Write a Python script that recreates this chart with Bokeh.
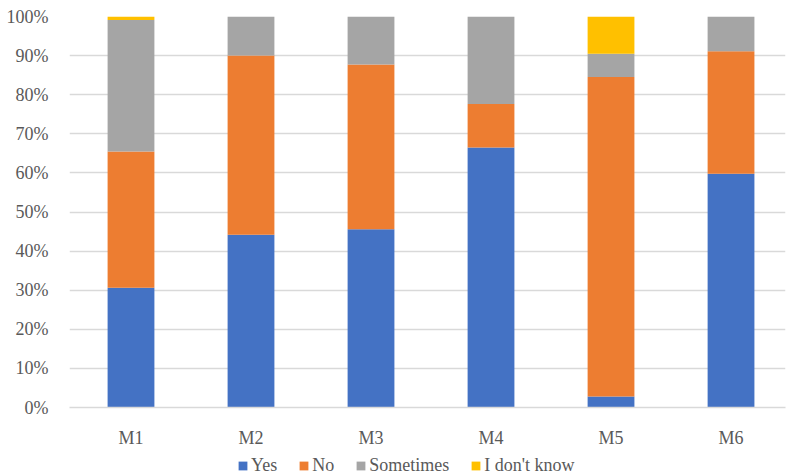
from bokeh.plotting import figure
from bokeh.layouts import column
from bokeh.models import Range1d, FixedTicker, NumeralTickFormatter, Legend, LegendItem, ColumnDataSource
from bokeh.embed import file_html
from bokeh.resources import INLINE

categories = ["M1", "M2", "M3", "M4", "M5", "M6"]
yes = [0.306, 0.442, 0.456, 0.665, 0.028, 0.598]
no = [0.349, 0.458, 0.421, 0.111, 0.817, 0.313]
sometimes = [0.336, 0.100, 0.123, 0.224, 0.060, 0.089]
dont_know = [0.009, 0.000, 0.000, 0.000, 0.095, 0.000]
series = ["Yes", "No", "Sometimes", "I don't know"]
colors = ["#4472C4", "#ED7D31", "#A5A5A5", "#FFC000"]

FONT = "Liberation Serif"
TXT = "#595959"

src = ColumnDataSource(dict(x=list(range(len(categories))), Yes=yes, No=no,
                            Sometimes=sometimes, **{"I don't know": dont_know}))

p = figure(width=787, height=450, output_backend="svg", toolbar_location=None,
           x_range=Range1d(-0.5125, 5.454), y_range=Range1d(0, 1),
           min_border_left=69, min_border_top=16, min_border_right=2, min_border_bottom=43)
p.outline_line_color = None

p.vbar_stack(series, x="x", width=0.39, source=src, color=colors, line_color=None)

p.xgrid.visible = False
p.ygrid.grid_line_color = "#D9D9D9"
p.ygrid.grid_line_width = 1.5

p.yaxis.ticker = FixedTicker(ticks=[i / 10 for i in range(11)])
p.yaxis.formatter = NumeralTickFormatter(format="0%")
p.yaxis.axis_line_color = None
p.yaxis.major_tick_line_color = None
p.yaxis.minor_tick_line_color = None
p.yaxis.major_label_standoff = 15

p.xaxis.ticker = FixedTicker(ticks=list(range(len(categories))))
p.xaxis.major_label_overrides = {i: c for i, c in enumerate(categories)}
p.xaxis.axis_line_color = "#D9D9D9"
p.xaxis.axis_line_width = 1.5
p.xaxis.major_tick_line_color = None
p.xaxis.minor_tick_line_color = None
p.xaxis.major_label_standoff = 14

for ax in (p.xaxis, p.yaxis):
    ax.major_label_text_font = FONT
    ax.major_label_text_font_size = "18px"
    ax.major_label_text_color = TXT

# legend strip below the chart (its bars sit outside its visible range)
pl = figure(width=787, height=26, output_backend="svg", toolbar_location=None,
            x_range=Range1d(-0.5125, 5.454), y_range=Range1d(5, 6),
            min_border=0, min_border_left=0, min_border_right=0,
            min_border_top=0, min_border_bottom=0)
pl.axis.visible = False
pl.grid.visible = False
pl.outline_line_color = None
swatches = pl.vbar_stack(series, x="x", width=0.39, source=src, color=colors, line_color=None)

legend = Legend(items=[LegendItem(label=s, renderers=[r]) for s, r in zip(series, swatches)],
                orientation="horizontal", location=(168, 0))
legend.label_text_font = FONT
legend.label_text_font_size = "18px"
legend.label_text_color = TXT
legend.glyph_width = 11
legend.glyph_height = 11
legend.label_height = 18
legend.label_standoff = 3
legend.spacing = 21
legend.padding = 0
legend.margin = 0
legend.border_line_color = None
legend.background_fill_alpha = 0
pl.add_layout(legend, "center")

layout = column(p, pl, spacing=0)
open("out.html", "w").write(file_html(layout, INLINE))
